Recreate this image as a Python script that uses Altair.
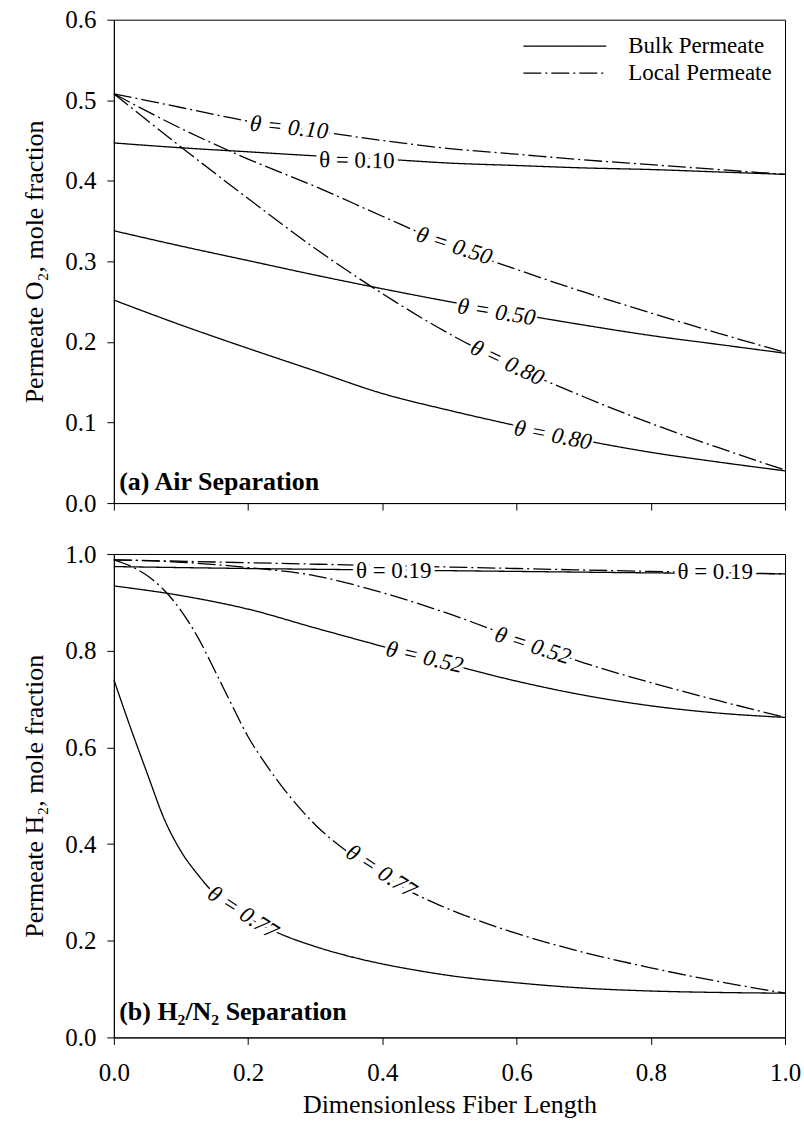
import altair as alt
import pandas as pd

FONT = "Liberation Serif"

# ---------------- Panel (a): Air separation ----------------
x_a = [0.0, 0.1, 0.2, 0.3, 0.4, 0.5, 0.6, 0.7, 0.8, 0.9, 1.0]
a_bulk_010 = [0.447, 0.441, 0.436, 0.431, 0.427, 0.422, 0.419, 0.416, 0.414, 0.411, 0.408]
a_local_010 = [0.508, 0.491, 0.474, 0.462, 0.450, 0.440, 0.433, 0.426, 0.420, 0.414, 0.408]
a_bulk_050 = [0.338, 0.319, 0.301, 0.283, 0.266, 0.250, 0.235, 0.221, 0.208, 0.197, 0.186]
a_local_050 = [0.508, 0.465, 0.427, 0.393, 0.356, 0.320, 0.290, 0.262, 0.236, 0.211, 0.187]
a_bulk_080 = [0.252, 0.221, 0.192, 0.164, 0.136, 0.115, 0.096, 0.078, 0.063, 0.051, 0.040]
a_local_080 = [0.508, 0.442, 0.378, 0.316, 0.260, 0.210, 0.168, 0.132, 0.099, 0.069, 0.041]

a_label_text = ["θ = 0.10", "θ = 0.10", "θ = 0.50", "θ = 0.50", "θ = 0.80", "θ = 0.80"]
a_label_x = [0.261, 0.362, 0.507, 0.570, 0.586, 0.654]
a_label_y = [0.466, 0.425, 0.319, 0.237, 0.174, 0.084]
a_label_angle = [6, 1, 18, 9, 25, 11]
a_label_italic = [True, False, True, True, True, True]

# ---------------- Panel (b): H2/N2 separation ----------------
x_b19 = [0.0, 0.2, 0.4, 0.6, 0.8, 1.0]
b_bulk_019 = [0.974, 0.970, 0.967, 0.964, 0.961, 0.959]
b_local_019 = [0.988, 0.982, 0.976, 0.970, 0.964, 0.959]

x_b52 = [0.0, 0.1, 0.2, 0.3, 0.4, 0.5, 0.6, 0.7, 0.8, 0.9, 1.0]
b_bulk_052 = [0.934, 0.914, 0.886, 0.847, 0.809, 0.772, 0.737, 0.708, 0.686, 0.671, 0.662]
b_local_052 = [0.988, 0.983, 0.972, 0.955, 0.920, 0.876, 0.825, 0.775, 0.734, 0.697, 0.662]

x_b77 = [0.0, 0.025, 0.05, 0.075, 0.1, 0.125, 0.15, 0.175, 0.2, 0.225, 0.25,
         0.3, 0.35, 0.4, 0.45, 0.5, 0.6, 0.7, 0.8, 0.9, 1.0]
b_bulk_077 = [0.740, 0.640, 0.545, 0.452, 0.385, 0.337, 0.297, 0.268, 0.247, 0.229, 0.213,
              0.188, 0.168, 0.152, 0.139, 0.128, 0.113, 0.102, 0.096, 0.093, 0.0915]
b_local_077 = [0.988, 0.975, 0.955, 0.925, 0.883, 0.828, 0.760, 0.690, 0.622, 0.568, 0.520,
               0.440, 0.382, 0.335, 0.296, 0.265, 0.215, 0.176, 0.144, 0.116, 0.0915]

b_label_text = ["θ = 0.19", "θ = 0.19", "θ = 0.52", "θ = 0.52", "θ = 0.77", "θ = 0.77"]
b_label_x = [0.417, 0.896, 0.624, 0.463, 0.398, 0.192]
b_label_y = [0.965, 0.962, 0.810, 0.786, 0.343, 0.258]
b_label_angle = [0, 0, 18, 13, 33, 33]
b_label_italic = [False, False, True, True, True, True]

kinds = ["Bulk Permeate", "Local Permeate"]
x_ticks = [0.0, 0.2, 0.4, 0.6, 0.8, 1.0]


def curve_df(x, y, name, kind):
    return pd.DataFrame({"x": x, "y": y, "curve": name, "kind": kind})


a_curves = pd.concat([
    curve_df(x_a, a_bulk_010, "b010", kinds[0]),
    curve_df(x_a, a_local_010, "l010", kinds[1]),
    curve_df(x_a, a_bulk_050, "b050", kinds[0]),
    curve_df(x_a, a_local_050, "l050", kinds[1]),
    curve_df(x_a, a_bulk_080, "b080", kinds[0]),
    curve_df(x_a, a_local_080, "l080", kinds[1]),
])
b_curves = pd.concat([
    curve_df(x_b19, b_bulk_019, "b019", kinds[0]),
    curve_df(x_b19, b_local_019, "l019", kinds[1]),
    curve_df(x_b52, b_bulk_052, "b052", kinds[0]),
    curve_df(x_b52, b_local_052, "l052", kinds[1]),
    curve_df(x_b77, b_bulk_077, "b077", kinds[0]),
    curve_df(x_b77, b_local_077, "l077", kinds[1]),
])

a_labels = pd.DataFrame({"label": a_label_text, "x": a_label_x, "y": a_label_y,
                         "angle": a_label_angle, "italic": a_label_italic})
b_labels = pd.DataFrame({"label": b_label_text, "x": b_label_x, "y": b_label_y,
                         "angle": b_label_angle, "italic": b_label_italic})


def panel(curves, labels, ymax, ystep_vals, ytitle, ptext, ptext_y, bottom, show_legend):
    x_axis = alt.Axis(values=x_ticks, format=".1f", labels=bottom, labelFlush=False,
                      title="Dimensionless Fiber Length" if bottom else None)
    xenc = alt.X("x:Q", scale=alt.Scale(domain=[0, 1], nice=False, zero=False), axis=x_axis)
    yenc = alt.Y("y:Q", scale=alt.Scale(domain=[0, ymax], nice=False, zero=False),
                 axis=alt.Axis(values=ystep_vals, format=".1f", title=ytitle))
    if show_legend:
        leg = alt.Legend(orient="top-right", title=None, symbolType="stroke",
                         symbolSize=6889, clipHeight=27, labelFont=FONT, labelFontSize=23,
                         labelColor="black", symbolStrokeWidth=1.3, symbolStrokeColor="black",
                         labelOffset=21, offset=13, padding=0, rowPadding=0)
    else:
        leg = None
    lines = alt.Chart(curves).mark_line(color="black", strokeWidth=1.3,
                                        interpolate="monotone").encode(
        x=xenc, y=yenc,
        strokeDash=alt.StrokeDash("kind:N", scale=alt.Scale(domain=kinds, range=[[1, 0], [18, 4, 2, 4]]),
                                  legend=leg),
        detail="curve:N",
    )
    halo = alt.Chart(labels).mark_text(font=FONT, fontSize=23, color="white", stroke="white",
                                       strokeWidth=8, align="center", baseline="middle").encode(
        x="x:Q", y="y:Q", text="label:N", angle=alt.Angle("angle:Q", scale=None))
    ital = alt.Chart(labels[labels["italic"]]).mark_text(
        font=FONT, fontSize=23, fontStyle="italic", color="black", align="center",
        baseline="middle").encode(x="x:Q", y="y:Q", text="label:N",
                                  angle=alt.Angle("angle:Q", scale=None))
    upr = alt.Chart(labels[~labels["italic"]]).mark_text(
        font=FONT, fontSize=23, color="black", align="center",
        baseline="middle").encode(x="x:Q", y="y:Q", text="label:N",
                                  angle=alt.Angle("angle:Q", scale=None))
    ptxt = alt.Chart(pd.DataFrame({"t": [ptext], "x": [0.008], "y": [ptext_y]})).mark_text(
        font=FONT, fontSize=26, fontWeight="bold", color="black", align="left",
        baseline="alphabetic").encode(x="x:Q", y="y:Q", text="t:N")
    return alt.layer(lines, halo, ital, upr, ptxt).properties(width=672, height=484)


top = panel(a_curves, a_labels, 0.6, [0.0, 0.1, 0.2, 0.3, 0.4, 0.5, 0.6],
            "Permeate O₂, mole fraction", "(a) Air Separation", 0.016, False, True)
bot = panel(b_curves, b_labels, 1.0, [0.0, 0.2, 0.4, 0.6, 0.8, 1.0],
            "Permeate H₂, mole fraction", "(b) H₂/N₂ Separation", 0.035, True, False)

chart = alt.vconcat(top, bot, spacing=24).resolve_scale(
    y="independent", strokeDash="independent").resolve_legend(strokeDash="independent").properties(
    padding={"left": 21, "top": 6, "right": 2, "bottom": 8}
).configure_view(stroke="black", strokeWidth=1).configure_axis(
    domainColor="black", tickColor="black", tickSize=7, tickWidth=1, domainWidth=1,
    labelFont=FONT, titleFont=FONT, labelFontSize=25, titleFontSize=26,
    labelColor="black", titleColor="black", titleFontWeight="normal", grid=False
).configure_axisY(labelPadding=11, titlePadding=17).configure_axisX(labelPadding=16, titlePadding=6)

chart.save("out.html", embed_options={"renderer": "svg", "actions": False})
